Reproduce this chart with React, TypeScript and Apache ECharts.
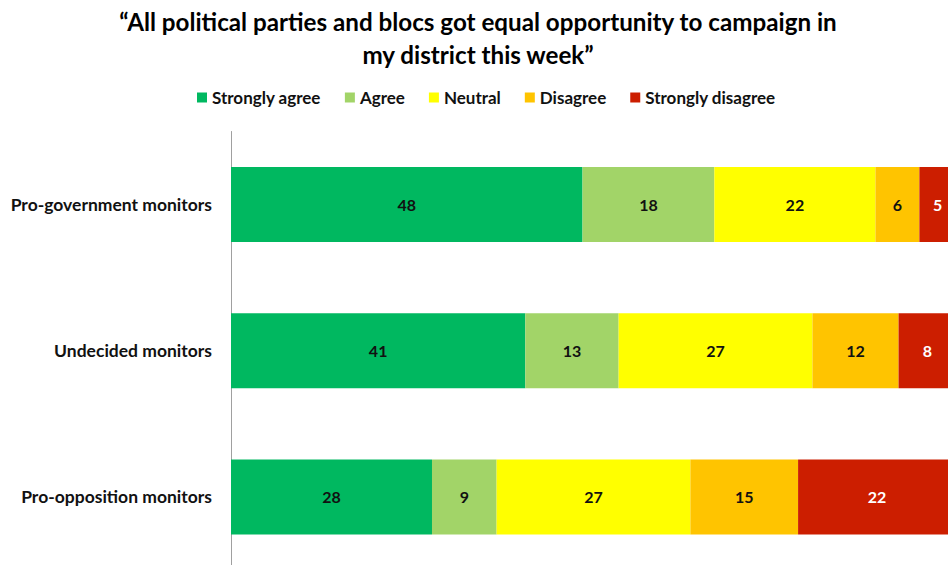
import React, { useEffect, useRef } from "react";
import * as echarts from "echarts";

const categories = ["Pro-government monitors", "Undecided monitors", "Pro-opposition monitors"];
const seriesNames = ["Strongly agree", "Agree", "Neutral", "Disagree", "Strongly disagree"];
const stronglyAgree = [48, 41, 28];
const agree = [18, 13, 9];
const neutral = [22, 27, 27];
const disagree = [6, 12, 15];
const stronglyDisagree = [5, 8, 22];
const colors = ["#00B860", "#A2D468", "#FFFF00", "#FFC400", "#CC1E00"];
const labelColors = ["#111", "#111", "#111", "#111", "#fff"];

const App: React.FC = () => {
  const ref = useRef<HTMLDivElement>(null);
  useEffect(() => {
    if (!ref.current) return;
    const chart = echarts.init(ref.current, undefined, { renderer: "svg" });
    const all = [stronglyAgree, agree, neutral, disagree, stronglyDisagree];
    const totals = categories.map((_, i) => all.reduce((s, arr) => s + arr[i], 0));
    const font = "Lato, 'Open Sans', sans-serif";
    chart.setOption({
      animation: false,
      title: {
        text: "\u201CAll political parties and blocs got equal opportunity to campaign in\nmy district this week\u201D",
        left: 473,
        top: 0,
        textAlign: "center",
        textStyle: { fontFamily: font, fontWeight: "bold", fontSize: 24.2, lineHeight: 33, color: "#000" },
      },
      legend: {
        left: 192,
        top: 84,
        itemWidth: 10,
        itemHeight: 10,
        itemGap: 24,
        icon: "rect",
        textStyle: { fontFamily: font, fontWeight: "bold", fontSize: 17, color: "#111" },
        data: seriesNames,
      },
      grid: { left: 231, right: 0, top: 131.5, bottom: 0, containLabel: false },
      xAxis: { type: "value", min: 0, max: 100, show: false },
      yAxis: {
        type: "category",
        data: categories,
        inverse: true,
        axisLine: { show: true, lineStyle: { color: "#A0A0A0", width: 1 } },
        axisTick: { show: false },
        axisLabel: { fontFamily: font, fontWeight: "bold", fontSize: 17.5, color: "#111", margin: 19 },
      },
      series: all.map((arr, si) => ({
        name: seriesNames[si],
        type: "bar",
        stack: "total",
        barWidth: 75,
        itemStyle: { color: colors[si] },
        label: {
          show: true,
          position: "inside",
          fontFamily: font,
          fontWeight: "bold",
          fontSize: 16,
          color: labelColors[si],
          formatter: (p: any) => String(arr[p.dataIndex]),
        },
        data: arr.map((v, i) => (v / totals[i]) * 100),
      })),
    });
    return () => chart.dispose();
  }, []);
  return (
    <div style={{ position: "absolute", left: 0, top: 0, width: 948, height: 565, overflow: "hidden", background: "#fff" }}>
      <div ref={ref} style={{ width: 956, height: 570 }} />
    </div>
  );
};

export default App;
